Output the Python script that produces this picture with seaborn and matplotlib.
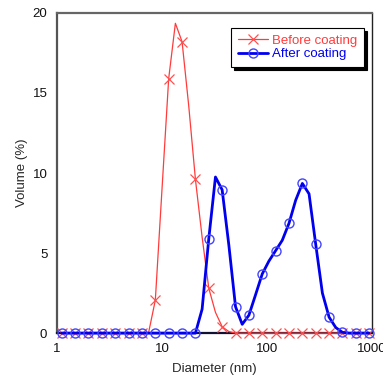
import numpy as np
import pandas as pd
import matplotlib
matplotlib.use("Agg")
import matplotlib.pyplot as plt
import seaborn as sns

# particle diameter bins (nm)
diameter = [1.109, 1.284, 1.486, 1.721, 1.993, 2.307, 2.672, 3.094, 3.583, 4.148,
            4.803, 5.563, 6.442, 7.459, 8.637, 10.00, 11.58, 13.41, 15.53, 17.97,
            20.82, 24.11, 27.91, 32.31, 37.42, 43.34, 50.18, 58.11, 67.29, 77.92,
            90.21, 104.4, 120.9, 140.0, 162.2, 187.8, 217.5, 251.8, 291.5, 337.6,
            390.9, 452.6, 524.1, 606.9, 702.6, 813.6, 942.1]

# volume distribution (%)
before = [0, 0, 0, 0, 0, 0, 0, 0, 0, 0,
          0, 0, 0, 0.05, 2.06, 9.0, 15.9, 19.35, 18.2, 14.2,
          9.6, 6.0, 2.8, 1.3, 0.4, 0.1, 0, 0, 0, 0,
          0, 0, 0, 0, 0, 0, 0, 0, 0, 0,
          0, 0, 0, 0, 0, 0, 0]
after = [0, 0, 0, 0, 0, 0, 0, 0, 0, 0,
         0, 0, 0, 0, 0, 0, 0, 0, 0, 0,
         0, 1.5, 5.9, 9.75, 8.95, 5.5, 1.65, 0.55, 1.12, 2.4,
         3.7, 4.5, 5.15, 5.8, 6.86, 8.3, 9.35, 8.7, 5.55, 2.5,
         1.0, 0.35, 0.05, 0, 0, 0, 0]

df = pd.DataFrame({"diameter": diameter, "before": before, "after": after})

sns.set_style("white")
plt.rcParams["font.family"] = ["Liberation Sans", "DejaVu Sans"]

fig = plt.figure(figsize=(3.83, 3.79), dpi=100)
ax = fig.add_axes([0.149, 0.121, 0.822, 0.845])

red = "#ff3b3b"
blue = "#0000ee"

sns.lineplot(data=df, x="diameter", y="before", ax=ax, color=red, lw=0.9,
             marker="x", markersize=7, markeredgewidth=0.9,
             markeredgecolor="#ff5050", markevery=2,
             clip_on=False, label="Before coating", zorder=3)
sns.lineplot(data=df, x="diameter", y="after", ax=ax, color=blue, lw=2.0,
             marker="o", markersize=6.5, markerfacecolor="none",
             markeredgecolor="#4444ff", markeredgewidth=1.0, markevery=2,
             clip_on=False, label="After coating", zorder=4)

ax.set_xscale("log")
ax.set_xlim(1, 1000)
ax.set_ylim(0, 20)
ax.set_xticks([1, 10, 100, 1000])
ax.set_xticklabels(["1", "10", "100", "1000"])
ax.set_yticks([0, 5, 10, 15, 20])
ax.minorticks_off()
ax.tick_params(length=0, labelsize=9.5, pad=7, labelcolor="#111111")

ax.set_xlabel("Diameter (nm)", fontsize=9.5, labelpad=6)
ax.set_ylabel("Volume (%)", fontsize=9.5, labelpad=3)

ax.spines["left"].set_color("#555555")
ax.spines["left"].set_linewidth(1.6)
ax.spines["top"].set_color("#666666")
ax.spines["top"].set_linewidth(1.6)
ax.spines["right"].set_color("#222222")
ax.spines["right"].set_linewidth(1.0)
ax.spines["bottom"].set_color("#111133")
ax.spines["bottom"].set_linewidth(1.6)

leg = ax.legend(loc="upper right", bbox_to_anchor=(0.975, 0.953), fontsize=9.5,
                frameon=True, fancybox=False,
                edgecolor="black", framealpha=1, labelcolor="linecolor",
                handlelength=2.3, handletextpad=0.3, borderpad=0.5,
                labelspacing=0.1, borderaxespad=0.0,
                shadow={"color": "black", "alpha": 1})
leg.get_frame().set_linewidth(0.8)

fig.savefig("out.png", dpi=100)
